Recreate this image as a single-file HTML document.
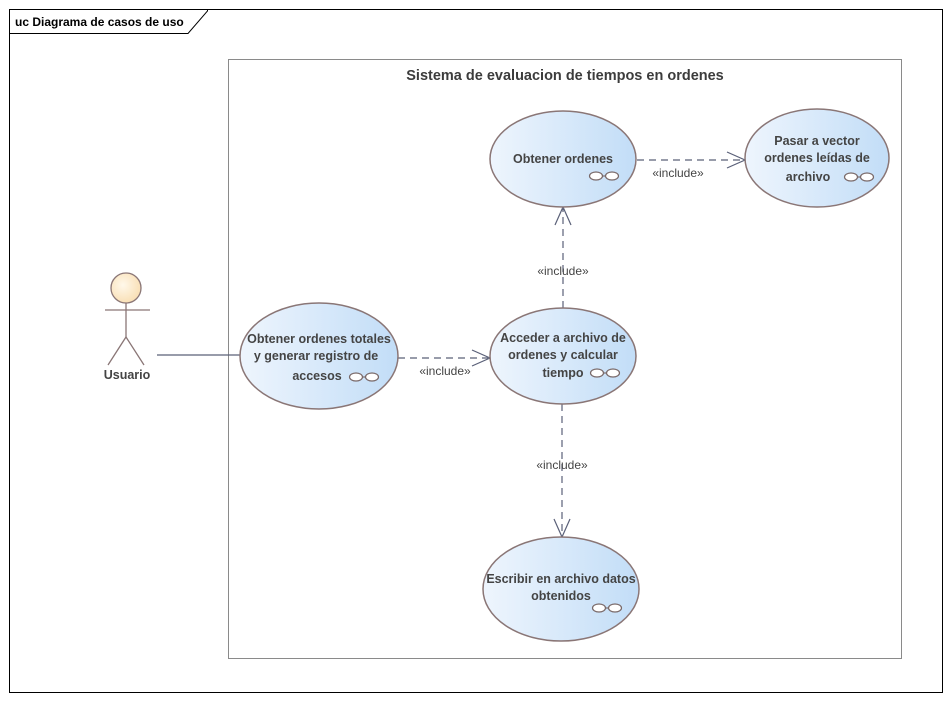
<!DOCTYPE html>
<html><head><meta charset="utf-8"><style>
html,body{margin:0;padding:0;background:#fff;}
svg{display:block;}
text{font-family:"Liberation Sans",sans-serif;}
</style></head><body>
<svg width="952" height="701" viewBox="0 0 952 701" xmlns="http://www.w3.org/2000/svg">
<defs>
<linearGradient id="g" x1="0" y1="0" x2="1" y2="0">
<stop offset="0" stop-color="#eef5fd"/><stop offset="1" stop-color="#c2ddf7"/>
</linearGradient>
<radialGradient id="h" cx="0.4" cy="0.4" r="0.7">
<stop offset="0" stop-color="#fff8ea"/><stop offset="1" stop-color="#f8dcae"/>
</radialGradient>
<g id="gl" stroke="#7a6a6a" stroke-width="1.2" fill="#fff">
<line x1="-2" y1="0" x2="2" y2="0"/>
<ellipse cx="-8" cy="0" rx="6.5" ry="4"/><ellipse cx="8" cy="0" rx="6.5" ry="4"/>
</g>
</defs>
<rect x="9.5" y="9.5" width="933" height="683" fill="#fff" stroke="#000" stroke-width="1"/>
<path d="M9.5 33.5 H188 L207.5 11 V9.5" fill="none" stroke="#000"/>
<text x="15" y="26" font-size="12" font-weight="bold" fill="#000">uc Diagrama de casos de uso</text>
<rect x="228.5" y="59.5" width="673" height="599" fill="#fff" stroke="#8a8a8a"/>
<text x="565" y="80" font-size="14.5" font-weight="bold" fill="#3c3c3c" text-anchor="middle">Sistema de evaluacion de tiempos en ordenes</text>

<g stroke="#5a6078" stroke-width="1.2" fill="none">
<line x1="157" y1="355" x2="240" y2="355"/>
<line x1="398" y1="358" x2="488" y2="358" stroke-dasharray="7,5"/>
<polyline points="472,350 490,358 472,366"/>
<line x1="563" y1="308" x2="563" y2="209" stroke-dasharray="7,5"/>
<polyline points="555,225 563,207 571,225"/>
<line x1="637" y1="160" x2="743" y2="160" stroke-dasharray="7,5"/>
<polyline points="727,152 745,160 727,168"/>
<line x1="562" y1="404" x2="562" y2="535" stroke-dasharray="7,5"/>
<polyline points="554,519 562,537 570,519"/>
</g>
<g font-size="12" fill="#444" text-anchor="middle">
<text x="678" y="177">«include»</text>
<text x="445" y="375">«include»</text>
<text x="563" y="275">«include»</text>
<text x="562" y="469">«include»</text>
</g>

<g stroke="#8a7676" stroke-width="1.5" fill="url(#g)">
<ellipse cx="563" cy="159" rx="73" ry="48"/>
<ellipse cx="817" cy="158" rx="72" ry="49"/>
<ellipse cx="319" cy="356" rx="79" ry="53"/>
<ellipse cx="563" cy="356" rx="73" ry="48"/>
<ellipse cx="561" cy="589" rx="78" ry="52"/>
</g>
<use href="#gl" x="604" y="176"/>
<use href="#gl" x="859" y="177"/>
<use href="#gl" x="364" y="377"/>
<use href="#gl" x="605" y="373"/>
<use href="#gl" x="607" y="608"/>
<g font-size="12.5" font-weight="bold" fill="#444" text-anchor="middle">
<text x="563" y="163">Obtener ordenes</text>
<text x="817" y="145">Pasar a vector</text>
<text x="817" y="162">ordenes leídas de</text>
<text x="808" y="181">archivo</text>
<text x="319" y="343">Obtener ordenes totales</text>
<text x="316" y="360">y generar registro de</text>
<text x="317" y="380">accesos</text>
<text x="563" y="342">Acceder a archivo de</text>
<text x="563" y="359">ordenes y calcular</text>
<text x="563" y="377">tiempo</text>
<text x="561" y="583">Escribir en archivo datos</text>
<text x="561" y="600">obtenidos</text>
</g>

<g stroke="#8a7676" stroke-width="1.3" fill="none">
<circle cx="126" cy="288" r="15" fill="url(#h)"/>
<line x1="126" y1="303" x2="126" y2="337"/>
<line x1="105" y1="310" x2="150" y2="310"/>
<polyline points="108,365 126,337 144,365"/>
</g>
<text x="127" y="379" font-size="12.5" font-weight="bold" fill="#444" text-anchor="middle">Usuario</text>
</svg>
</body></html>
